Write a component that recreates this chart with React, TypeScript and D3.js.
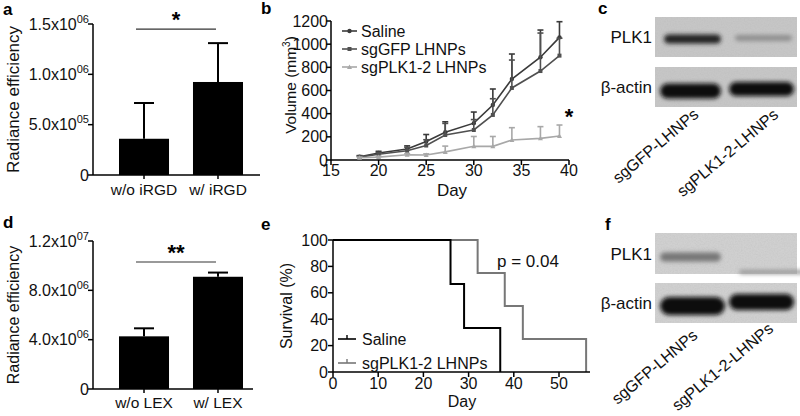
import React from 'react';
import * as d3 from 'd3';

const FONT = '"Liberation Sans", Arial, Helvetica, sans-serif';

// ---------- Panel a ----------
const aCategories = ['w/o iRGD', 'w/ iRGD'];
const aMeans = [3.6e5, 9.24e5];
const aErrors = [3.55e5, 3.86e5];
const aTicks = [0, 5e5, 1e6, 1.5e6];
const aTickMantissa = ['0', '5.0', '1.0', '1.5'];
const aTickExp = ['', '05', '06', '06'];

// ---------- Panel d ----------
const dCategories = ['w/o LEX', 'w/ LEX'];
const dMeans = [4.27e6, 9.1e6];
const dErrors = [0.65e6, 0.34e6];
const dTicks = [0, 4e6, 8e6, 1.2e7];
const dTickMantissa = ['0', '4.0', '8.0', '1.2'];
const dTickExp = ['', '06', '06', '07'];

// ---------- Panel b ----------
const bDays = [18, 20, 23, 25, 27, 30, 32, 34, 37, 39];
const salineMean = [28, 60, 95, 160, 240, 318, 475, 699, 887, 1059];
const salineErr = [10, 15, 27, 60, 90, 96, 138, 216, 235, 135];
const gfpMean = [25, 50, 80, 125, 216, 259, 389, 622, 768, 901];
const gfpErr = [8, 15, 30, 50, 100, 90, 140, 241, 328, 150];
const plkMean = [20, 25, 45, 43, 70, 118, 118, 173, 187, 207];
const plkErr = [5, 8, 10, 10, 50, 85, 85, 106, 101, 95];
const bXTicks = [15, 20, 25, 30, 35, 40];
const bYTicks = [0, 200, 400, 600, 800, 1000, 1200];
const bSeriesNames = ['Saline', 'sgGFP LHNPs', 'sgPLK1-2 LHNPs'];

// ---------- Panel e ----------
const salineSurvDays = [0, 26, 29, 37];
const salineSurv = [100, 66.7, 33.3, 0];
const plkSurvDays = [0, 32, 38, 42, 56];
const plkSurv = [100, 75, 50, 25, 0];
const eXTicks = [0, 10, 20, 30, 40, 50];
const eYTicks = [0, 20, 40, 60, 80, 100];
const eSeriesNames = ['Saline', 'sgPLK1-2 LHNPs'];

// ---------- Panels c / f (western blots) ----------
const blotRows = ['PLK1', 'β-actin'];
const blotLanes = ['sgGFP-LHNPs', 'sgPLK1-2-LHNPs'];
const cPLK1Intensity = [0.88, 0.3];
const cActinIntensity = [0.97, 0.97];
const fPLK1Intensity = [0.45, 0.3];
const fActinIntensity = [1.0, 1.0];

function TickLabel({ x, y, m, e, size = 16 }: any) {
  return (
    <text x={x} y={y} textAnchor="end" fontSize={size} fontFamily={FONT} fill="#111">
      {e ? `${m}x10` : m}
      {e ? (
        <tspan dy={-7} fontSize={11}>
          {e}
        </tspan>
      ) : null}
    </text>
  );
}

function BarPanel({ cats, means, errs, ticks, mant, exps, yMax, top, bottom, axisRight, yLabel, yLabelSize, sigY, sig, letter, letterY, xLabelY, sigColor, sigWidth }: any) {
  const axisX = 93;
  const x = d3.scaleBand().domain(cats).range([94, 268]).paddingInner(0.324).paddingOuter(0.338);
  const y = d3.scaleLinear().domain([0, yMax]).range([bottom, top]);
  const bw = x.bandwidth();
  const c0 = (x(cats[0]) as number) + bw / 2;
  const c1 = (x(cats[1]) as number) + bw / 2;
  return (
    <g>
      <text x={3} y={letterY} fontSize={17} fontWeight="bold" fontFamily={FONT}>{letter}</text>
      <text transform={`translate(19,${(top + bottom) / 2}) rotate(-90)`} textAnchor="middle" fontSize={yLabelSize} fontFamily={FONT} fill="#111">{yLabel}</text>
      {ticks.map((t: number, i: number) => (
        <g key={i}>
          <line x1={axisX - 5} x2={axisX} y1={y(t)} y2={y(t)} stroke="#000" strokeWidth={1.5} />
          <TickLabel x={axisX - 4} y={y(t) + 5.5} m={mant[i]} e={exps[i]} />
        </g>
      ))}
      {cats.map((c: string, i: number) => {
        const bx = x(c) as number;
        const cx = bx + bw / 2;
        return (
          <g key={c}>
            <rect x={bx} y={y(means[i])} width={bw} height={y(0) - y(means[i])} fill="#000" />
            <line x1={cx} x2={cx} y1={y(means[i])} y2={y(means[i] + errs[i])} stroke="#000" strokeWidth={2} />
            <line x1={cx - 10} x2={cx + 10} y1={y(means[i] + errs[i])} y2={y(means[i] + errs[i])} stroke="#000" strokeWidth={2} />
            <line x1={cx} x2={cx} y1={y(0)} y2={y(0) + 4} stroke="#000" strokeWidth={1.5} />
            <text x={cx} y={xLabelY} textAnchor="middle" fontSize={15.5} fontFamily={FONT} fill="#111">{c}</text>
          </g>
        );
      })}
      <line x1={axisX} x2={axisX} y1={y(yMax)} y2={y(0)} stroke="#000" strokeWidth={1.5} />
      <line x1={axisX} x2={axisRight} y1={y(0)} y2={y(0)} stroke="#000" strokeWidth={1.5} />
      <line x1={c0 - 8} x2={c1 - 2} y1={y(sigY)} y2={y(sigY)} stroke={sigColor} strokeWidth={sigWidth} />
      <text x={(c0 + c1) / 2 - 5} y={y(sigY) - 2} textAnchor="middle" fontSize={22} fontWeight="bold" fontFamily={FONT}>{sig}</text>
    </g>
  );
}

function PanelB() {
  const x = d3.scaleLinear().domain([15, 40]).range([331, 569]);
  const y = d3.scaleLinear().domain([0, 1200]).range([160, 21]);
  const series = [
    { name: bSeriesNames[0], mean: salineMean, err: salineErr, color: '#3a3a3a', marker: 'circle' },
    { name: bSeriesNames[1], mean: gfpMean, err: gfpErr, color: '#505050', marker: 'square' },
    { name: bSeriesNames[2], mean: plkMean, err: plkErr, color: '#a8a8a8', marker: 'tri' },
  ];
  const line = d3.line<number>().x((_, i) => x(bDays[i])).y((v) => y(v));
  return (
    <g>
      <text x={261} y={14} fontSize={17} fontWeight="bold" fontFamily={FONT}>b</text>
      <text transform={`translate(296,85) rotate(-90)`} textAnchor="middle" fontSize={15.5} fontFamily={FONT} fill="#111">
        Volume (mm<tspan dy={-6} fontSize={10}>3</tspan><tspan dy={6}>)</tspan>
      </text>
      <text x={452} y={196} textAnchor="middle" fontSize={17} fontFamily={FONT} fill="#111">Day</text>
      {bYTicks.map((t) => (
        <g key={t}>
          <line x1={326} x2={331} y1={y(t)} y2={y(t)} stroke="#000" strokeWidth={1.5} />
          <text x={328} y={y(t) + 5.5} textAnchor="end" fontSize={16} fontFamily={FONT} fill="#111">{t}</text>
        </g>
      ))}
      {bXTicks.map((t) => (
        <g key={t}>
          <line x1={x(t)} x2={x(t)} y1={160} y2={165} stroke="#000" strokeWidth={1.5} />
          <text x={x(t)} y={176} textAnchor="middle" fontSize={16} fontFamily={FONT} fill="#111">{t}</text>
        </g>
      ))}
      <line x1={331} x2={331} y1={y(1200)} y2={y(0)} stroke="#000" strokeWidth={1.5} />
      <line x1={331} x2={569} y1={160} y2={160} stroke="#000" strokeWidth={1.5} />
      {series.map((s) => (
        <g key={s.name}>
          {s.mean.map((m, i) => (
            <g key={i}>
              <line x1={x(bDays[i])} x2={x(bDays[i])} y1={y(m)} y2={y(m + s.err[i])} stroke={s.color} strokeWidth={1.6} />
              <line x1={x(bDays[i]) - 3} x2={x(bDays[i]) + 3} y1={y(m + s.err[i])} y2={y(m + s.err[i])} stroke={s.color} strokeWidth={1.6} />
            </g>
          ))}
          <path d={line(s.mean) || ''} fill="none" stroke={s.color} strokeWidth={1.6} />
          {s.mean.map((m, i) =>
            s.marker === 'circle' ? (
              <circle key={i} cx={x(bDays[i])} cy={y(m)} r={2.2} fill={s.color} />
            ) : s.marker === 'square' ? (
              <rect key={i} x={x(bDays[i]) - 2} y={y(m) - 2} width={4} height={4} fill={s.color} />
            ) : (
              <path key={i} d={`M${x(bDays[i]) - 2.5},${y(m) + 2}L${x(bDays[i]) + 2.5},${y(m) + 2}L${x(bDays[i])},${y(m) - 2.5}Z`} fill={s.color} />
            )
          )}
        </g>
      ))}
      {series.map((s, i) => (
        <g key={s.name}>
          <line x1={342} x2={357} y1={31 + i * 18} y2={31 + i * 18} stroke={s.color} strokeWidth={1.6} />
          {s.marker === 'circle' ? (
            <circle cx={349.5} cy={31 + i * 18} r={2.2} fill={s.color} />
          ) : s.marker === 'square' ? (
            <rect x={347.5} y={29 + i * 18} width={4} height={4} fill={s.color} />
          ) : (
            <path d={`M347,${33 + i * 18}L352,${33 + i * 18}L349.5,${28.5 + i * 18}Z`} fill={s.color} />
          )}
          <text x={361} y={31 + i * 18 + 5.5} fontSize={16} fontFamily={FONT} fill="#111">{s.name}</text>
        </g>
      ))}
      <text x={569} y={124} textAnchor="middle" fontSize={22} fontWeight="bold" fontFamily={FONT}>*</text>
    </g>
  );
}

function PanelE() {
  const x = d3.scaleLinear().domain([0, 50]).range([333, 559]);
  const y = d3.scaleLinear().domain([0, 100]).range([372, 240]);
  const step = d3.line<[number, number]>().x((d) => x(d[0])).y((d) => y(d[1])).curve(d3.curveStepAfter);
  const curves = [
    { name: eSeriesNames[0], pts: salineSurvDays.map((d, i) => [d, salineSurv[i]] as [number, number]), color: '#000', w: 2 },
    { name: eSeriesNames[1], pts: plkSurvDays.map((d, i) => [d, plkSurv[i]] as [number, number]), color: '#777', w: 2 },
  ];
  return (
    <g>
      <text x={261} y={230} fontSize={17} fontWeight="bold" fontFamily={FONT}>e</text>
      <text transform={`translate(292,${(240 + 372) / 2}) rotate(-90)`} textAnchor="middle" fontSize={16} fontFamily={FONT} fill="#111">Survival (%)</text>
      <text x={462} y={407} textAnchor="middle" fontSize={16} fontFamily={FONT} fill="#111">Day</text>
      {eYTicks.map((t) => (
        <g key={t}>
          <line x1={328} x2={333} y1={y(t)} y2={y(t)} stroke="#000" strokeWidth={1.5} />
          <text x={328} y={y(t) + 5.5} textAnchor="end" fontSize={16} fontFamily={FONT} fill="#111">{t}</text>
        </g>
      ))}
      {eXTicks.map((t) => (
        <g key={t}>
          <line x1={x(t)} x2={x(t)} y1={372} y2={377} stroke="#000" strokeWidth={1.5} />
          <text x={x(t)} y={389} textAnchor="middle" fontSize={16} fontFamily={FONT} fill="#111">{t}</text>
        </g>
      ))}
      {curves.slice().reverse().map((c) => (
        <path key={c.name} d={step(c.pts) || ''} fill="none" stroke={c.color} strokeWidth={c.w} />
      ))}
      <line x1={333} x2={333} y1={y(100)} y2={y(0)} stroke="#000" strokeWidth={1.5} />
      <line x1={333} x2={590} y1={372} y2={372} stroke="#000" strokeWidth={1.5} />
      {curves.map((c, i) => (
        <g key={c.name}>
          <line x1={338} x2={356} y1={339 + i * 24} y2={339 + i * 24} stroke={c.color} strokeWidth={1.6} />
          <line x1={347} x2={347} y1={335 + i * 24} y2={339 + i * 24} stroke={c.color} strokeWidth={1.4} />
          <text x={362} y={339 + i * 24 + 5.5} fontSize={16} fontFamily={FONT} fill="#111">{c.name}</text>
        </g>
      ))}
      <text x={497} y={267} fontSize={17} fontFamily={FONT} fill="#111">p = 0.04</text>
    </g>
  );
}

function Blot({ letter, letterX, letterY, rowBoxes, plk, actin, bg, bandRows, labelMids, filterId }: any) {
  const lane = d3.scaleBand().domain(blotLanes).range([655, 797]).paddingInner(0.2).paddingOuter(0.1);
  const shade = d3.interpolateRgb(bg, '#0a0a0a');
  const intensities = [plk, actin];
  return (
    <g>
      <text x={letterX} y={letterY} fontSize={17} fontWeight="bold" fontFamily={FONT}>{letter}</text>
      {blotRows.map((r, ri) => {
        const box = rowBoxes[ri];
        return (
          <g key={r}>
            <rect x={655} y={box[0]} width={142} height={box[1] - box[0]} fill={bg} />
            <rect x={655} y={box[0]} width={142} height={box[1] - box[0]} fill="#888" filter="url(#noise)" />
            <text x={652} y={(box[0] + box[1]) / 2 + 6} textAnchor="end" fontSize={17} fontFamily={FONT} fill="#111">{r}</text>
            <g filter={`url(#${filterId})`}>
              {blotLanes.map((l, li) => {
                const spec = bandRows[ri][li];
                return (
                  <rect key={l} x={(lane(l) as number) + spec.dx} y={spec.cy - spec.h / 2} width={lane.bandwidth() + spec.dw} height={spec.h} rx={spec.h / 2} fill={shade(intensities[ri][li])} />
                );
              })}
            </g>
          </g>
        );
      })}
      {blotLanes.map((l, li) => (
        <text key={l} transform={`translate(${labelMids[li][0]},${labelMids[li][1]}) rotate(-40)`} textAnchor="middle" fontSize={16} fontFamily={FONT} fill="#111">{l}</text>
      ))}
    </g>
  );
}

export default function App() {
  return (
    <svg width={800} height={416} style={{ position: 'fixed', left: 0, top: 0, background: '#fff' }} xmlns="http://www.w3.org/2000/svg">
      <defs>
        <filter id="blurC" x="-20%" y="-80%" width="140%" height="260%">
          <feGaussianBlur stdDeviation="2.2" />
        </filter>
        <filter id="blurF" x="-20%" y="-80%" width="140%" height="260%">
          <feGaussianBlur stdDeviation="2.2" />
        </filter>
        <filter id="noise" x="0" y="0" width="100%" height="100%">
          <feTurbulence type="fractalNoise" baseFrequency="0.7" numOctaves="2" seed="4" result="t" />
          <feColorMatrix in="t" type="matrix" values="0 0 0 0 0.45  0 0 0 0 0.45  0 0 0 0 0.45  0.25 0.25 0.25 0 -0.3" result="n" />
          <feComposite in="n" in2="SourceGraphic" operator="in" />
        </filter>
      </defs>
      <rect x={0} y={0} width={800} height={416} fill="#fff" />
      <BarPanel cats={aCategories} means={aMeans} errs={aErrors} ticks={aTicks} mant={aTickMantissa} exps={aTickExp}
        yMax={1.5e6} top={24} bottom={175} axisRight={260} yLabel="Radiance efficiency" yLabelSize={17}
        sigY={1.45e6} sig="*" letter="a" letterY={15} xLabelY={195} sigColor="#333" sigWidth={1.2} />
      <BarPanel cats={dCategories} means={dMeans} errs={dErrors} ticks={dTicks} mant={dTickMantissa} exps={dTickExp}
        yMax={1.2e7} top={241} bottom={389} axisRight={253} yLabel="Radiance efficiency" yLabelSize={16}
        sigY={1.03e7} sig="**" letter="d" letterY={228} xLabelY={408} sigColor="#777" sigWidth={1.5} />
      <PanelB />
      <PanelE />
      <Blot letter="c" letterX={598} letterY={14} rowBoxes={[[17, 57], [67, 107]]}
        plk={cPLK1Intensity} actin={cActinIntensity} bg="#c6c6c6" filterId="blurC"
        bandRows={[
          [{ dx: 2, dw: 0, cy: 39, h: 9 }, { dx: 2, dw: 0, cy: 38, h: 6 }],
          [{ dx: -2, dw: 4, cy: 91, h: 15 }, { dx: -4, dw: 8, cy: 89, h: 14 }],
        ]}
        labelMids={[[659, 150], [731, 157]]} />
      <Blot letter="f" letterX={605} letterY={230} rowBoxes={[[233, 274], [283, 323]]}
        plk={fPLK1Intensity} actin={fActinIntensity} bg="#d0d0d0" filterId="blurF"
        bandRows={[
          [{ dx: -2, dw: 4, cy: 257, h: 9 }, { dx: 6, dw: 8, cy: 272, h: 4 }],
          [{ dx: -2, dw: 8, cy: 306, h: 18 }, { dx: -4, dw: 8, cy: 302, h: 16 }],
        ]}
        labelMids={[[658, 371], [726, 371]]} />
    </svg>
  );
}
